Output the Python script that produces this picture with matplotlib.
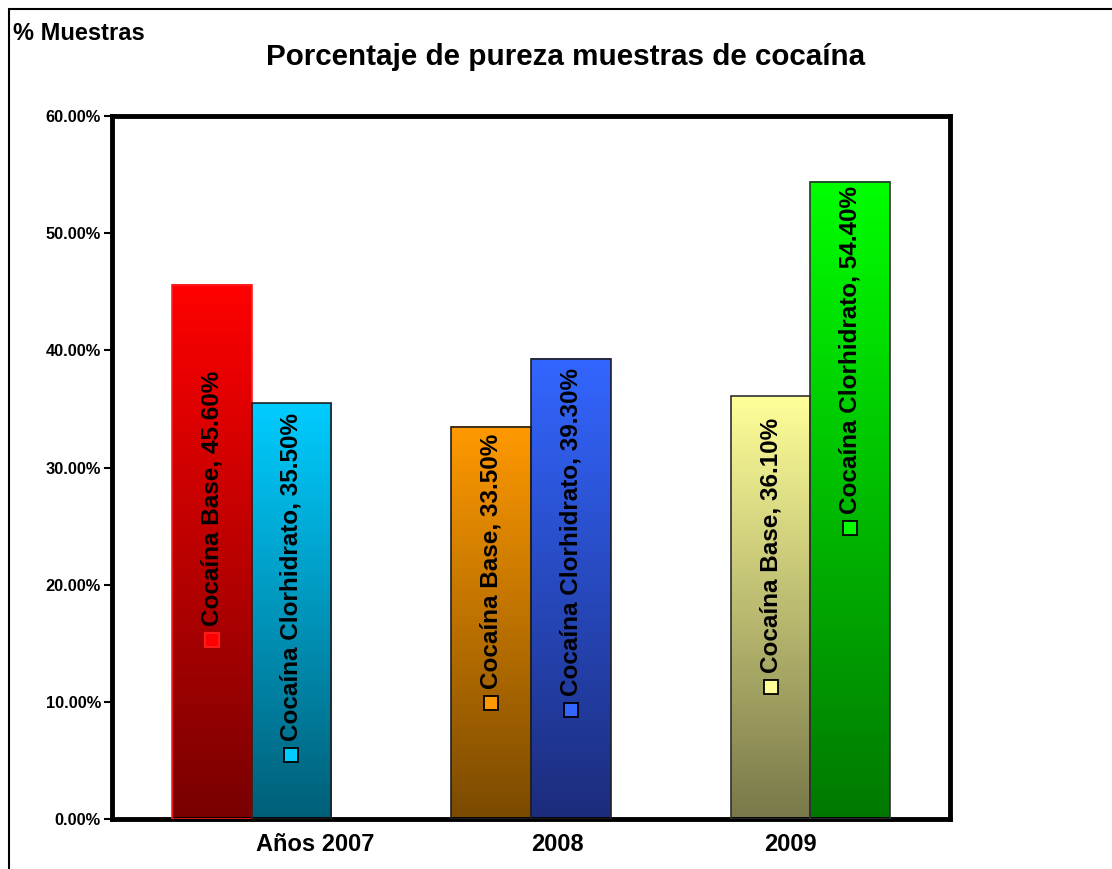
"""
Porcentaje de pureza de muestras de cocaína, 2007-2009.

Bars drawn with a vertical gradient per bar (bright on top, dark at the base),
each with an inside label carrying a small legend key, Excel-style.
"""

import matplotlib

matplotlib.use("Agg")
import matplotlib.pyplot as plt
import matplotlib.transforms as mtransforms
import numpy as np
from matplotlib.colors import LinearSegmentedColormap
from matplotlib.patches import Rectangle
from matplotlib.ticker import FuncFormatter

plt.rcParams["font.family"] = ["Liberation Sans", "DejaVu Sans"]
plt.rcParams["font.weight"] = "bold"

years = ["Años 2007", "2008", "2009"]
series = ["Cocaína Base", "Cocaína Clorhidrato"]
base = [45.6, 33.5, 36.1]
clorhidrato = [35.5, 39.3, 54.4]

# (top, bottom) gradient colours, one pair per bar, in year order
base_colors = [("#ff0000", "#780000"), ("#ff9900", "#7a4a00"), ("#ffff99", "#78784a")]
clor_colors = [("#00ccff", "#005f78"), ("#3366ff", "#1c2c7c"), ("#00ff00", "#007800")]
base_edges = ["#ff2020", "#202020", "#303030"]
clor_edges = ["#202020", "#202020", "#303030"]

# height of the little legend key inside each bar (label text sits above it)
base_key_y = [15.3, 9.9, 11.3]
clor_key_y = [5.5, 9.3, 24.8]

# the original's year labels are not centred on their groups (points shift)
year_label_shift = [46, 19, -14]

fig = plt.figure(figsize=(11.12, 8.69), dpi=100)
ax = fig.add_axes([0.1007, 0.0575, 0.7536, 0.809])

x = np.arange(len(years))
w = 0.285

grad = np.linspace(0, 1, 256).reshape(-1, 1)


def gradient_bars(xpos, vals, colors, edges, key_y, names):
    bars = ax.bar(xpos, vals, width=w, facecolor="none", edgecolor=edges,
                  linewidth=1.2, zorder=3)
    for bar, (top, bot), ky, v, edge in zip(bars, colors, key_y, vals, edges):
        x0, y0 = bar.get_x(), bar.get_y()
        cmap = LinearSegmentedColormap.from_list("g", [bot, top])
        ax.imshow(grad, cmap=cmap, aspect="auto", origin="lower",
                  extent=[x0, x0 + bar.get_width(), y0, y0 + bar.get_height()],
                  zorder=2)
        cx = x0 + bar.get_width() / 2
        ax.plot(cx, ky, marker="s", markersize=10, markerfacecolor=top,
                markeredgecolor=edge if edge.startswith("#ff") else "black",
                markeredgewidth=1.3, zorder=4)
        ax.text(cx, ky + 1.2, f"{names}, {v:.2f}%", rotation=90,
                ha="center", va="bottom", fontsize=17.5, fontweight="bold",
                zorder=5)


gradient_bars(x - w / 2, base, base_colors, base_edges, base_key_y, series[0])
gradient_bars(x + w / 2, clorhidrato, clor_colors, clor_edges, clor_key_y, series[1])

ax.set_xlim(-0.5, 2.5)
ax.set_ylim(0, 60)
ax.set_yticks(np.arange(0, 61, 10))
ax.yaxis.set_major_formatter(FuncFormatter(lambda v, _: f"{v:.2f}%"))
ax.set_xticks(x)
ax.set_xticklabels(years, fontsize=17, fontweight="bold")
ax.tick_params(axis="x", length=0, pad=10)
ax.tick_params(axis="y", length=6, width=1.5, direction="out", labelsize=11.8, pad=2)
for lab in ax.get_yticklabels():
    lab.set_fontweight("bold")
for lab, dx in zip(ax.get_xticklabels(), year_label_shift):
    lab.set_transform(lab.get_transform()
                      + mtransforms.ScaledTranslation(dx / 72, 0, fig.dpi_scale_trans))
for sp in ax.spines.values():
    sp.set_linewidth(3.5)

fig.text(0.509, 0.934, "Porcentaje de pureza muestras de cocaína",
         ha="center", va="center", fontsize=21.3, fontweight="bold")
fig.text(0.012, 0.962, "% Muestras", ha="left", va="center",
         fontsize=17, fontweight="bold")

# chart-area border running off the right and bottom edges of the image
fig.patches.append(Rectangle((9 / 1112, -0.1), 1.2, 1.1 - 9 / 869,
                             transform=fig.transFigure, fill=False,
                             edgecolor="black", linewidth=1.5))

plt.savefig("out.png", dpi=100)
